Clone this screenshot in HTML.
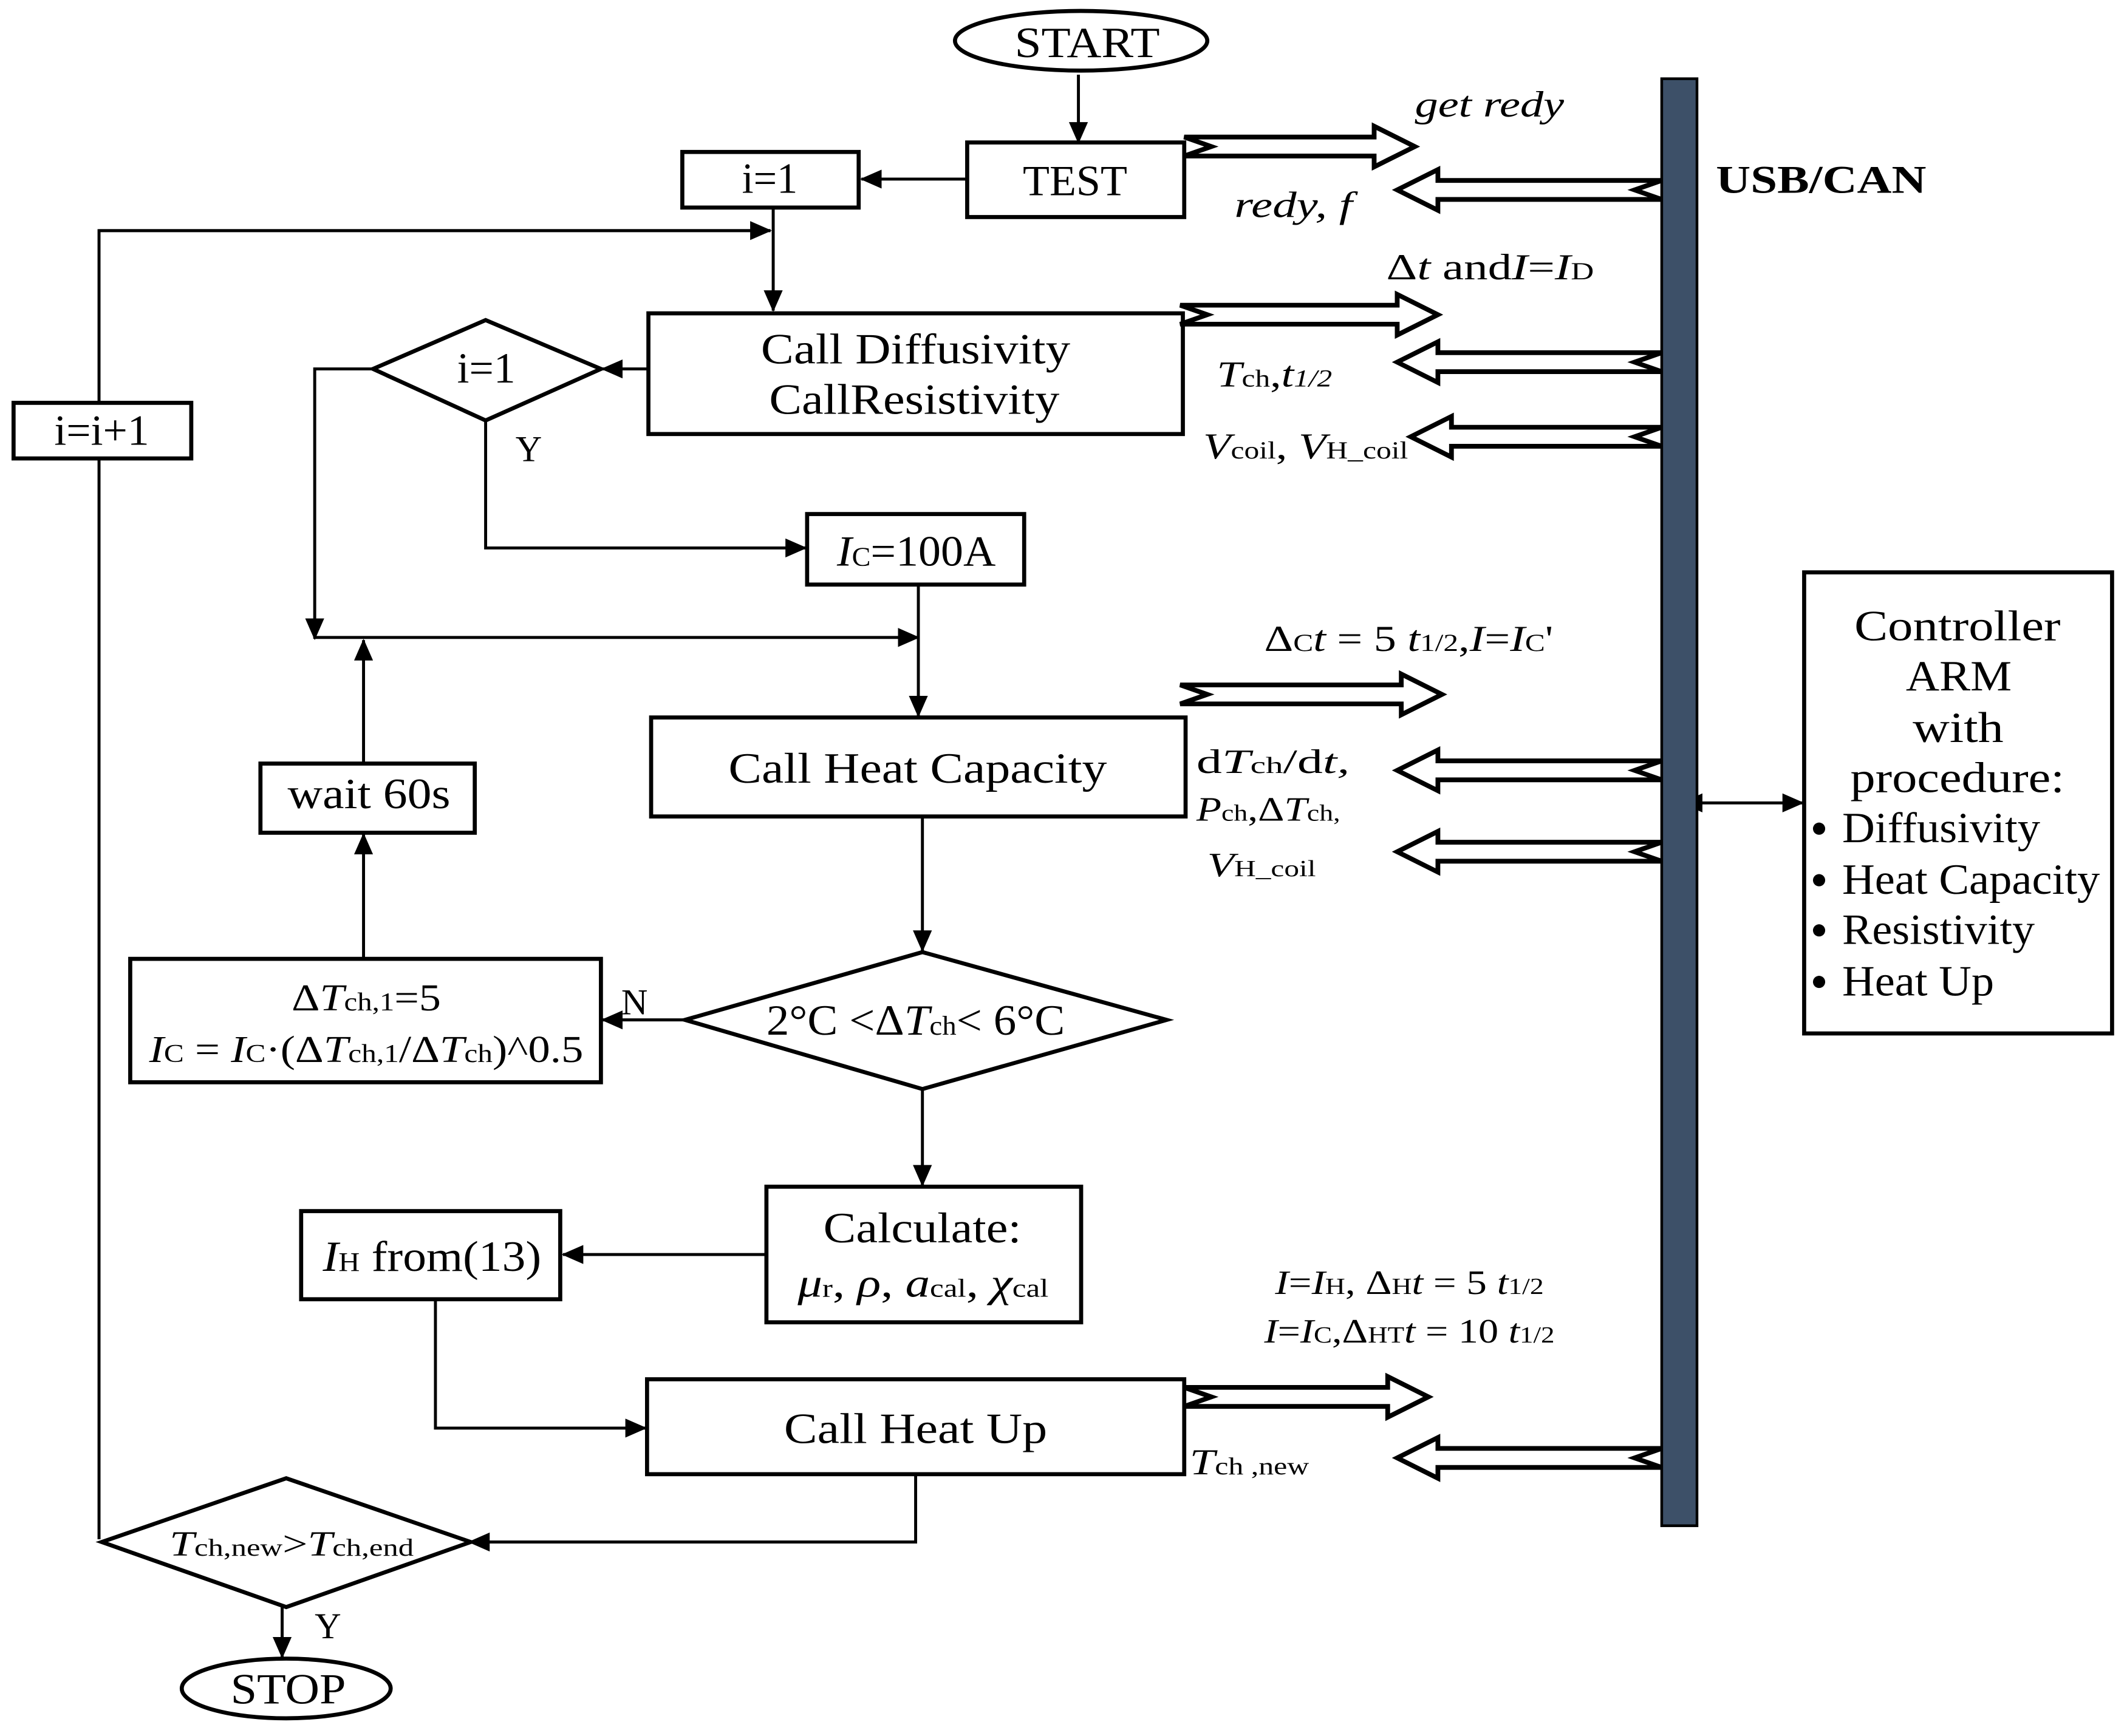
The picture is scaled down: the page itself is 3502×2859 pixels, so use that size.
<!DOCTYPE html>
<html><head><meta charset="utf-8"><style>
html,body{margin:0;padding:0;background:#fff}
svg{display:block}
text{font-family:"Liberation Serif",serif;fill:#000}
</style></head><body>
<svg width="3502" height="2859" viewBox="0 0 1568 1280" xmlns="http://www.w3.org/2000/svg">
<defs>
<marker id="ah" markerWidth="16" markerHeight="14" refX="15" refY="7" orient="auto" markerUnits="userSpaceOnUse">
<path d="M0,0 L16,7 L0,14 Z" fill="#000"/>
</marker>
<marker id="ahs" markerWidth="16" markerHeight="14" refX="1" refY="7" orient="auto-start-reverse" markerUnits="userSpaceOnUse">
<path d="M0,0 L16,7 L0,14 Z" fill="#000"/>
</marker>
</defs>
<rect width="1568" height="1280" fill="#fff"/>
<g fill="none" stroke="#000" stroke-width="2.2">
<line x1="795" y1="55" x2="795" y2="105" marker-end="url(#ah)"/>
<line x1="713" y1="132" x2="635" y2="132" marker-end="url(#ah)"/>
<polyline points="73,1135 73,170 568,170" />
<line x1="73" y1="170" x2="568" y2="170" marker-end="url(#ah)"/>
<line x1="570" y1="153" x2="570" y2="229" marker-end="url(#ah)"/>
<line x1="478" y1="272" x2="444" y2="272" marker-end="url(#ah)"/>
<polyline points="275,272 232,272 232,471" marker-end="url(#ah)"/>
<polyline points="358,310 358,404 594,404" marker-end="url(#ah)"/>
<line x1="232" y1="470" x2="677" y2="470" marker-end="url(#ah)"/>
<line x1="677" y1="431" x2="677" y2="528" marker-end="url(#ah)"/>
<line x1="680" y1="602" x2="680" y2="701" marker-end="url(#ah)"/>
<line x1="505" y1="752" x2="444" y2="752" marker-end="url(#ah)"/>
<line x1="268" y1="707" x2="268" y2="615" marker-end="url(#ah)"/>
<line x1="268" y1="563" x2="268" y2="472" marker-end="url(#ah)"/>
<line x1="680" y1="803" x2="680" y2="874" marker-end="url(#ah)"/>
<line x1="565" y1="925" x2="415" y2="925" marker-end="url(#ah)"/>
<polyline points="321,958 321,1053 476,1053" marker-end="url(#ah)"/>
<polyline points="675,1087 675,1137 346,1137" marker-end="url(#ah)"/>
<line x1="208" y1="1185" x2="208" y2="1222" marker-end="url(#ah)"/>
<line x1="1254" y1="592" x2="1329" y2="592" marker-end="url(#ah)" marker-start="url(#ahs)"/>
</g>
<g fill="#fff" stroke="#000" stroke-width="3">
<ellipse cx="797" cy="30" rx="93" ry="22"/>
<rect x="713" y="105" width="160" height="55"/>
<rect x="503" y="112" width="130" height="41"/>
<rect x="10" y="297" width="131" height="41"/>
<rect x="478" y="231" width="394" height="89"/>
<polygon points="275,272 358,236 443,272 358,310"/>
<rect x="595" y="379" width="160" height="52"/>
<rect x="480" y="529" width="394" height="73"/>
<polygon points="505,752 680,702 860,752 680,803"/>
<rect x="96" y="707" width="347" height="91"/>
<rect x="192" y="563" width="158" height="51"/>
<rect x="565" y="875" width="232" height="100"/>
<rect x="222" y="893" width="191" height="65"/>
<rect x="477" y="1017" width="396" height="70"/>
<polygon points="75,1137 211,1090 347,1137 211,1185"/>
<ellipse cx="211" cy="1245" rx="77" ry="22"/>
<rect x="1330" y="422" width="227" height="340"/>
</g>
<rect x="1225" y="58" width="26" height="1067" fill="#3d5068" stroke="#000" stroke-width="2"/>
<g fill="#fff" stroke="#000" stroke-width="3.5" stroke-linejoin="miter">
<polygon points="873,101 1013,101 1013,93 1043,108 1013,123 1013,115 873,115 893,108"/>
<polygon points="1225,133 1060,133 1060,125 1030,140 1060,155 1060,147 1225,147 1205,140"/>
<polygon points="870,225 1030,225 1030,217 1060,232 1030,247 1030,239 870,239 890,232"/>
<polygon points="1225,260 1060,260 1060,252 1030,267 1060,282 1060,274 1225,274 1205,267"/>
<polygon points="1225,315 1070,315 1070,307 1040,322 1070,337 1070,329 1225,329 1205,322"/>
<polygon points="870,505 1033,505 1033,497 1063,512 1033,527 1033,519 870,519 890,512"/>
<polygon points="1225,561 1060,561 1060,553 1030,568 1060,583 1060,575 1225,575 1205,568"/>
<polygon points="1225,621 1060,621 1060,613 1030,628 1060,643 1060,635 1225,635 1205,628"/>
<polygon points="873,1023 1023,1023 1023,1015 1053,1030 1023,1045 1023,1037 873,1037 893,1030"/>
<polygon points="1225,1068 1060,1068 1060,1060 1030,1075 1060,1090 1060,1082 1225,1082 1205,1075"/>
</g>
<g font-size="32" lengthAdjust="spacingAndGlyphs">
<text x="748" y="42" textLength="107" lengthAdjust="spacingAndGlyphs">START</text>
<text x="754" y="144" textLength="77" lengthAdjust="spacingAndGlyphs">TEST</text>
<text x="547" y="142" textLength="41" lengthAdjust="spacingAndGlyphs">i=1</text>
<text x="40" y="328" textLength="70" lengthAdjust="spacingAndGlyphs">i=i+1</text>
<text x="561" y="268" textLength="228" lengthAdjust="spacingAndGlyphs">Call Diffusivity</text>
<text x="567" y="305" textLength="214" lengthAdjust="spacingAndGlyphs">CallResistivity</text>
<text x="337" y="282" textLength="43" lengthAdjust="spacingAndGlyphs">i=1</text>
<text x="617" y="417" textLength="117" lengthAdjust="spacingAndGlyphs"><tspan font-style="italic">I</tspan><tspan font-size="20">C</tspan>=100A</text>
<text x="537" y="577" textLength="279" lengthAdjust="spacingAndGlyphs">Call Heat Capacity</text>
<text x="565" y="763" textLength="220" lengthAdjust="spacingAndGlyphs">2°C &lt;Δ<tspan font-style="italic">T</tspan><tspan font-size="20">ch</tspan>&lt; 6°C</text>
<text x="212" y="596" textLength="120" lengthAdjust="spacingAndGlyphs">wait 60s</text>
<text x="215" y="745" font-size="28" textLength="110" lengthAdjust="spacingAndGlyphs">Δ<tspan font-style="italic">T</tspan><tspan font-size="19">ch,1</tspan>=5</text>
<text x="110" y="783" font-size="28" textLength="320" lengthAdjust="spacingAndGlyphs"><tspan font-style="italic">I</tspan><tspan font-size="19">C</tspan> = <tspan font-style="italic">I</tspan><tspan font-size="19">C</tspan>·(Δ<tspan font-style="italic">T</tspan><tspan font-size="19">ch,1</tspan>/Δ<tspan font-style="italic">T</tspan><tspan font-size="19">ch</tspan>)^0.5</text>
<text x="607" y="916" textLength="146" lengthAdjust="spacingAndGlyphs">Calculate:</text>
<text x="588" y="956" font-size="30" textLength="185" lengthAdjust="spacingAndGlyphs"><tspan font-style="italic">μ</tspan><tspan font-size="19">r</tspan>, <tspan font-style="italic">ρ</tspan>, <tspan font-style="italic">a</tspan><tspan font-size="19">cal</tspan>, <tspan font-style="italic">χ</tspan><tspan font-size="19">cal</tspan></text>
<text x="238" y="937" textLength="161" lengthAdjust="spacingAndGlyphs"><tspan font-style="italic">I</tspan><tspan font-size="20">H</tspan> from(13)</text>
<text x="578" y="1064" textLength="194" lengthAdjust="spacingAndGlyphs">Call Heat Up</text>
<text x="125" y="1147" font-size="26" textLength="180" lengthAdjust="spacingAndGlyphs"><tspan font-style="italic">T</tspan><tspan font-size="18">ch,new</tspan>&gt;<tspan font-style="italic">T</tspan><tspan font-size="18">ch,end</tspan></text>
<text x="170" y="1256" textLength="85" lengthAdjust="spacingAndGlyphs">STOP</text>
<text x="1367" y="472" textLength="152" lengthAdjust="spacingAndGlyphs">Controller</text>
<text x="1405" y="509" textLength="78" lengthAdjust="spacingAndGlyphs">ARM</text>
<text x="1410" y="547" textLength="67" lengthAdjust="spacingAndGlyphs">with</text>
<text x="1364" y="584" textLength="158" lengthAdjust="spacingAndGlyphs">procedure:</text>
<text x="1358" y="621" textLength="146" lengthAdjust="spacingAndGlyphs">Diffusivity</text>
<text x="1358" y="659" textLength="190" lengthAdjust="spacingAndGlyphs">Heat Capacity</text>
<text x="1358" y="696" textLength="142" lengthAdjust="spacingAndGlyphs">Resistivity</text>
<text x="1358" y="734" textLength="112" lengthAdjust="spacingAndGlyphs">Heat Up</text>
</g>
<g fill="#000">
<circle cx="1341" cy="611" r="4.5"/>
<circle cx="1341" cy="649" r="4.5"/>
<circle cx="1341" cy="686" r="4.5"/>
<circle cx="1341" cy="724" r="4.5"/>
</g>
<g font-size="27">
<text x="380" y="340">Y</text>
<text x="458" y="748">N</text>
<text x="232" y="1208">Y</text>
<text x="1043" y="86" font-style="italic" textLength="110" lengthAdjust="spacingAndGlyphs">get redy</text>
<text x="910" y="160" font-style="italic" textLength="87" lengthAdjust="spacingAndGlyphs">redy, f</text>
<text x="1265" y="142" font-family="Liberation Sans,sans-serif" font-weight="bold" font-size="29" textLength="155" lengthAdjust="spacingAndGlyphs">USB/CAN</text>
<text x="1022" y="206" textLength="153" lengthAdjust="spacingAndGlyphs">Δ<tspan font-style="italic">t</tspan> and<tspan font-style="italic">I</tspan>=<tspan font-style="italic">I</tspan><tspan font-size="18">D</tspan></text>
<text x="897" y="285" textLength="85" lengthAdjust="spacingAndGlyphs"><tspan font-style="italic">T</tspan><tspan font-size="18">ch</tspan>,<tspan font-style="italic">t</tspan><tspan font-size="18" font-style="italic">1/2</tspan></text>
<text x="887" y="338" textLength="151" lengthAdjust="spacingAndGlyphs"><tspan font-style="italic">V</tspan><tspan font-size="18">coil</tspan>, <tspan font-style="italic">V</tspan><tspan font-size="18">H_coil</tspan></text>
<text x="932" y="480" textLength="213" lengthAdjust="spacingAndGlyphs">Δ<tspan font-size="18">C</tspan><tspan font-style="italic">t</tspan> = 5 <tspan font-style="italic">t</tspan><tspan font-size="18">1/2</tspan>,<tspan font-style="italic">I</tspan>=<tspan font-style="italic">I</tspan><tspan font-size="18">C</tspan>'</text>
<text x="882" y="570" font-size="25" textLength="113" lengthAdjust="spacingAndGlyphs">d<tspan font-style="italic">T</tspan><tspan font-size="17">ch</tspan>/d<tspan font-style="italic">t,</tspan></text>
<text x="882" y="605" font-size="25" textLength="106" lengthAdjust="spacingAndGlyphs"><tspan font-style="italic">P</tspan><tspan font-size="17">ch</tspan>,Δ<tspan font-style="italic">T</tspan><tspan font-size="17">ch,</tspan></text>
<text x="890" y="646" font-size="25" textLength="80" lengthAdjust="spacingAndGlyphs"><tspan font-style="italic">V</tspan><tspan font-size="17">H_coil</tspan></text>
<text x="940" y="954" font-size="25" textLength="198" lengthAdjust="spacingAndGlyphs"><tspan font-style="italic">I</tspan>=<tspan font-style="italic">I</tspan><tspan font-size="17">H</tspan>, Δ<tspan font-size="17">H</tspan><tspan font-style="italic">t</tspan> = 5 <tspan font-style="italic">t</tspan><tspan font-size="17">1/2</tspan></text>
<text x="932" y="990" font-size="25" textLength="214" lengthAdjust="spacingAndGlyphs"><tspan font-style="italic">I</tspan>=<tspan font-style="italic">I</tspan><tspan font-size="17">C</tspan>,Δ<tspan font-size="17">HT</tspan><tspan font-style="italic">t</tspan> = 10 <tspan font-style="italic">t</tspan><tspan font-size="17">1/2</tspan></text>
<text x="877" y="1087" textLength="88" lengthAdjust="spacingAndGlyphs"><tspan font-style="italic">T</tspan><tspan font-size="18">ch ,new</tspan></text>
</g>
</svg>
</body></html>
